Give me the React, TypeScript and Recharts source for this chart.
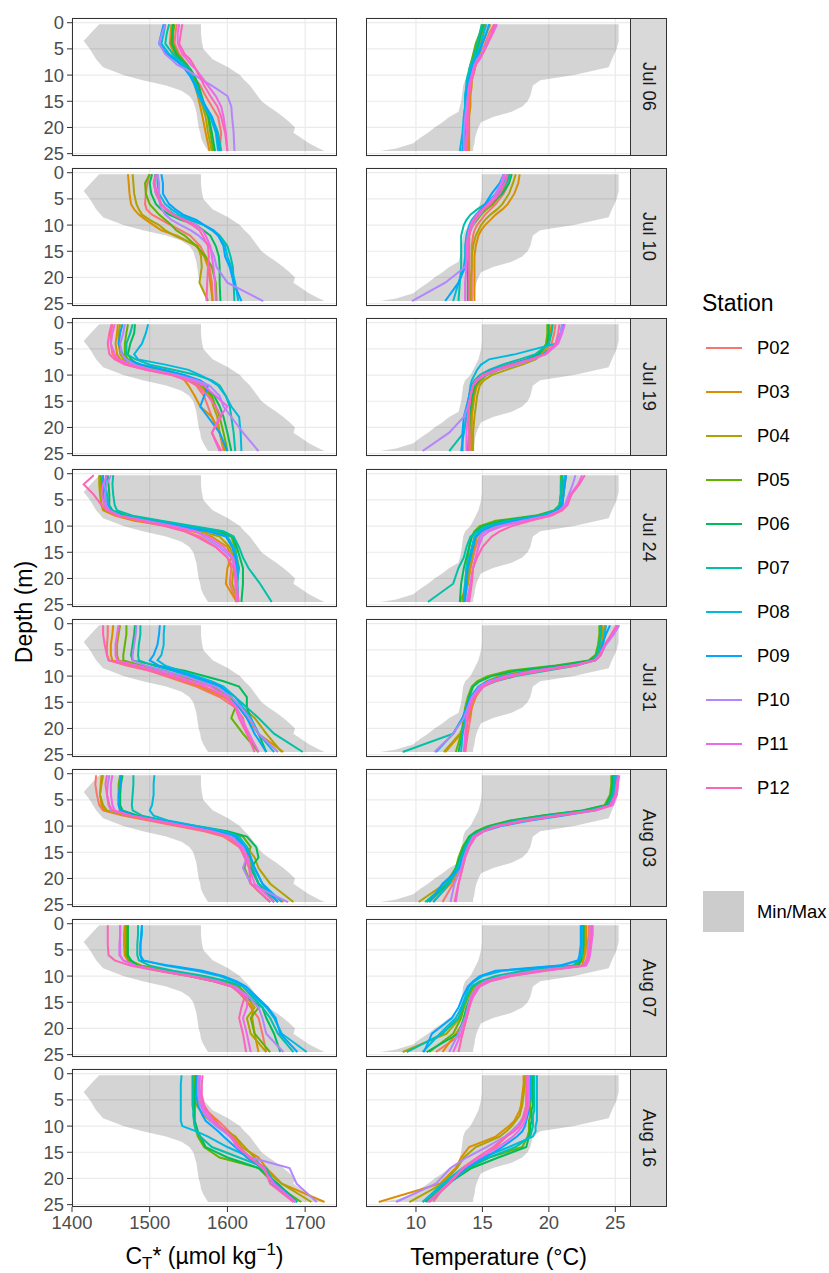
import React from "react";
import { ComposedChart, Line, Area, XAxis, YAxis, CartesianGrid } from "recharts";

const stations = ["P02", "P03", "P04", "P05", "P06", "P07", "P08", "P09", "P10", "P11", "P12"];
const stationColors = ["#F8766D", "#DB8E00", "#AEA200", "#64B200", "#00BD5C", "#00C1A7", "#00BADE", "#00A6FF", "#B385FF", "#EF67EB", "#FF63B6"];
const dates = ["Jul 06", "Jul 10", "Jul 19", "Jul 24", "Jul 31", "Aug 03", "Aug 07", "Aug 16"];

// depth (m) of each profile sample
const depths = [0.3, 2, 4, 6, 7, 8, 9, 10, 11, 12, 14, 16, 18, 21, 24.5];
const depthTicks = [0, 5, 10, 15, 20, 25];
const ctTicks = [1400, 1500, 1600, 1700];
const tempTicks = [10, 15, 20, 25];

// Min/Max envelope over all dates
const ribbonDepths = [0.3, 2, 3.5, 5, 7, 8.5, 10, 11, 12, 13, 14, 15, 16, 17, 18, 19, 20, 21, 22, 23, 24, 24.5];
const ctMin = [1435, 1424, 1415, 1423, 1431, 1440, 1466, 1491, 1521, 1541, 1551, 1556, 1558, 1560, 1561, 1562, 1563, 1565, 1566, 1569, 1573, 1575];
const ctMax = [1566, 1566, 1567, 1569, 1581, 1601, 1616, 1622, 1629, 1634, 1639, 1644, 1653, 1663, 1672, 1680, 1687, 1685, 1695, 1705, 1718, 1725];
const tempMin = [14.95, 14.95, 14.95, 14.9, 14.7, 14.4, 14.1, 13.7, 13.55, 13.5, 13.45, 13.4, 13.3, 13.2, 12.5, 12.0, 11.4, 10.9, 10.3, 9.8, 8.5, 7.3];
const tempMax = [25.25, 25.25, 25.25, 25.1, 24.75, 24.5, 21.9, 19.35, 18.8, 18.7, 18.6, 18.4, 18.0, 17.2, 15.8, 14.9, 14.7, 14.55, 14.45, 14.4, 14.3, 14.3];

// CT* profiles, one row per station (P02..P12)
const ctJul06 = [
  [1535, 1533, 1532, 1538, 1543, 1548, 1552, 1556, 1560, 1565, 1572, 1580, 1588, 1592, 1590],
  [1528, 1527, 1526, 1532, 1538, 1545, 1550, 1553, 1556, 1558, 1562, 1565, 1568, 1572, 1577],
  [1530, 1530, 1529, 1535, 1540, 1546, 1551, 1554, 1557, 1560, 1564, 1568, 1572, 1575, 1580],
  [1532, 1530, 1530, 1536, 1542, 1548, 1552, 1556, 1559, 1562, 1566, 1570, 1575, 1578, 1582],
  [1530, 1529, 1528, 1534, 1540, 1547, 1553, 1557, 1560, 1563, 1567, 1571, 1576, 1580, 1584],
  [1525, 1522, 1520, 1530, 1537, 1545, 1550, 1554, 1556, 1560, 1565, 1572, 1580, 1588, 1592],
  [1520, 1518, 1515, 1525, 1535, 1543, 1548, 1552, 1555, 1558, 1563, 1570, 1578, 1585, 1588],
  [1518, 1515, 1512, 1522, 1532, 1540, 1546, 1551, 1555, 1559, 1565, 1572, 1580, 1586, 1590],
  [1520, 1516, 1512, 1520, 1528, 1535, 1548, 1558, 1568, 1580, 1600, 1605, 1606, 1608, 1609],
  [1538, 1536, 1536, 1542, 1548, 1553, 1560, 1565, 1570, 1575, 1585, 1592, 1595, 1598, 1600],
  [1542, 1540, 1538, 1545, 1552, 1556, 1560, 1563, 1567, 1570, 1578, 1587, 1592, 1597, 1600],
];
const ctJul10 = [
  [1500, 1497, 1495, 1494, 1496, 1503, 1515, 1527, 1540, 1552, 1565, 1572, 1577, 1580, 1581],
  [1472, 1473, 1474, 1476, 1480, 1486, 1495, 1505, 1515, 1535, 1560, 1570, 1575, 1578, 1581],
  [1478, 1479, 1480, 1483, 1486, 1490, 1500, 1512, 1520, 1532, 1562, 1566, 1567, 1564, 1575],
  [1500, 1494, 1495, 1500, 1506, 1512, 1520, 1528, 1534, 1545, 1560, 1572, 1580, 1585, 1586],
  [1503, 1500, 1502, 1508, 1515, 1525, 1540, 1560, 1569, 1578, 1585, 1589, 1590, 1590, 1591],
  [1507, 1506, 1508, 1515, 1522, 1532, 1550, 1570, 1582, 1590, 1600, 1604, 1607, 1608, 1609],
  [1510, 1510, 1512, 1520, 1528, 1538, 1555, 1570, 1580, 1588, 1597, 1600, 1605, 1610, 1614],
  [1515, 1517, 1517, 1525, 1533, 1543, 1560, 1570, 1582, 1588, 1595, 1597, 1603, 1608, 1618],
  [1510, 1512, 1512, 1513, 1516, 1520, 1528, 1540, 1553, 1563, 1577, 1583, 1586, 1600, 1646],
  [1508, 1505, 1508, 1515, 1522, 1530, 1545, 1560, 1568, 1572, 1578, 1580, 1582, 1584, 1585],
  [1508, 1506, 1510, 1515, 1520, 1530, 1543, 1555, 1564, 1568, 1575, 1576, 1575, 1574, 1573],
];
const ctJul19 = [
  [1452, 1450, 1450, 1452, 1458, 1470, 1495, 1530, 1550, 1560, 1570, 1575, 1580, 1590, 1595],
  [1459, 1458, 1456, 1458, 1462, 1472, 1500, 1535, 1545, 1550, 1558, 1565, 1580, 1590, 1597],
  [1462, 1460, 1460, 1462, 1466, 1475, 1505, 1537, 1553, 1565, 1578, 1582, 1587, 1590, 1598],
  [1472, 1470, 1468, 1468, 1472, 1480, 1508, 1540, 1557, 1568, 1580, 1585, 1590, 1595, 1600],
  [1481, 1480, 1475, 1472, 1476, 1485, 1512, 1545, 1560, 1570, 1583, 1590, 1595, 1600, 1605],
  [1478, 1475, 1470, 1470, 1482, 1500, 1530, 1560, 1580, 1590, 1598, 1603, 1605, 1608, 1610],
  [1498, 1495, 1490, 1480, 1485, 1520, 1550, 1565, 1578, 1588, 1598, 1605, 1615, 1617, 1618],
  [1465, 1462, 1460, 1465, 1470, 1490, 1520, 1545, 1565, 1575, 1570, 1565, 1575, 1590, 1600],
  [1468, 1466, 1462, 1464, 1470, 1480, 1505, 1535, 1560, 1577, 1590, 1595, 1605, 1620, 1640],
  [1455, 1452, 1450, 1455, 1460, 1475, 1500, 1530, 1555, 1570, 1585, 1600, 1590, 1580, 1590],
  [1451, 1448, 1446, 1448, 1455, 1468, 1495, 1528, 1548, 1562, 1575, 1585, 1592, 1580, 1592],
];
const ctJul24 = [
  [1440, 1438, 1440, 1442, 1445, 1458, 1485, 1520, 1545, 1565, 1585, 1600, 1605, 1603, 1612],
  [1436, 1436, 1437, 1438, 1440, 1455, 1480, 1525, 1555, 1580, 1600, 1605, 1600, 1598, 1612],
  [1435, 1435, 1436, 1438, 1442, 1460, 1490, 1530, 1565, 1590, 1603, 1608, 1608, 1606, 1614],
  [1437, 1438, 1440, 1442, 1446, 1465, 1500, 1540, 1580, 1605, 1610, 1612, 1615, 1612, 1614],
  [1446, 1447, 1448, 1448, 1452, 1470, 1510, 1550, 1590, 1607, 1612, 1616, 1620, 1620, 1618],
  [1453, 1452, 1453, 1455, 1458, 1478, 1515, 1555, 1595, 1608, 1615, 1620, 1627, 1642, 1657],
  [1444, 1443, 1445, 1447, 1450, 1465, 1500, 1540, 1580, 1600, 1608, 1612, 1614, 1613, 1614],
  [1440, 1440, 1442, 1445, 1448, 1462, 1495, 1535, 1575, 1598, 1606, 1610, 1612, 1611, 1613],
  [1450, 1445, 1442, 1444, 1448, 1462, 1495, 1530, 1560, 1570, 1590, 1605, 1610, 1612, 1614],
  [1445, 1440, 1438, 1442, 1447, 1460, 1492, 1528, 1558, 1575, 1595, 1607, 1610, 1610, 1612],
  [1428, 1415, 1428, 1438, 1445, 1458, 1488, 1520, 1545, 1560, 1585, 1600, 1608, 1612, 1614],
];
const ctJul31 = [
  [1446, 1446, 1445, 1445, 1448, 1470, 1500, 1520, 1540, 1560, 1590, 1610, 1620, 1625, 1640],
  [1453, 1452, 1450, 1450, 1452, 1480, 1505, 1525, 1545, 1565, 1595, 1615, 1625, 1640, 1672],
  [1462, 1460, 1458, 1458, 1460, 1485, 1510, 1530, 1550, 1570, 1600, 1620, 1635, 1650, 1670],
  [1470, 1470, 1468, 1466, 1466, 1490, 1520, 1540, 1560, 1580, 1605, 1610, 1605, 1620, 1640],
  [1481, 1480, 1478, 1476, 1478, 1510, 1545, 1570, 1595, 1615, 1625, 1625, 1630, 1640, 1650],
  [1488, 1488, 1486, 1485, 1486, 1505, 1530, 1550, 1570, 1590, 1610, 1625, 1640, 1660, 1697],
  [1519, 1518, 1518, 1515, 1510, 1520, 1540, 1560, 1580, 1595, 1610, 1620, 1630, 1640, 1660],
  [1513, 1512, 1510, 1505, 1500, 1512, 1535, 1555, 1575, 1592, 1605, 1615, 1625, 1635, 1650],
  [1483, 1482, 1480, 1478, 1478, 1495, 1520, 1545, 1565, 1585, 1605, 1618, 1628, 1640, 1665],
  [1460, 1458, 1456, 1456, 1458, 1485, 1510, 1535, 1555, 1578, 1600, 1612, 1618, 1628, 1640],
  [1440, 1440, 1442, 1445, 1447, 1475, 1500, 1525, 1548, 1570, 1598, 1610, 1615, 1625, 1635],
];
const ctAug03 = [
  [1431, 1430, 1432, 1435, 1440, 1465, 1500, 1535, 1570, 1595, 1615, 1625, 1630, 1640, 1660],
  [1438, 1437, 1436, 1438, 1442, 1470, 1505, 1540, 1575, 1600, 1618, 1628, 1632, 1640, 1672],
  [1440, 1438, 1436, 1440, 1445, 1472, 1510, 1545, 1580, 1605, 1625, 1635, 1640, 1655, 1685],
  [1462, 1460, 1460, 1460, 1462, 1480, 1515, 1555, 1590, 1620, 1630, 1625, 1622, 1630, 1655],
  [1465, 1463, 1462, 1462, 1465, 1485, 1520, 1560, 1600, 1625, 1637, 1640, 1630, 1640, 1660],
  [1479, 1479, 1478, 1477, 1478, 1490, 1520, 1555, 1590, 1612, 1625, 1630, 1632, 1640, 1665],
  [1506, 1505, 1505, 1503, 1500, 1505, 1525, 1560, 1595, 1615, 1625, 1630, 1635, 1645, 1670],
  [1463, 1462, 1460, 1460, 1462, 1480, 1512, 1550, 1585, 1610, 1622, 1630, 1635, 1645, 1665],
  [1448, 1446, 1445, 1447, 1450, 1475, 1510, 1545, 1580, 1605, 1620, 1625, 1620, 1630, 1678],
  [1452, 1450, 1450, 1452, 1455, 1477, 1510, 1545, 1578, 1600, 1618, 1626, 1628, 1635, 1660],
  [1445, 1443, 1445, 1448, 1452, 1474, 1505, 1540, 1575, 1600, 1616, 1622, 1628, 1630, 1655],
];
const ctAug07 = [
  [1468, 1468, 1468, 1468, 1472, 1490, 1525, 1560, 1590, 1610, 1622, 1630, 1640, 1645, 1650],
  [1468, 1467, 1467, 1468, 1472, 1485, 1515, 1555, 1585, 1608, 1620, 1632, 1632, 1635, 1640],
  [1472, 1471, 1470, 1470, 1475, 1488, 1520, 1560, 1590, 1612, 1625, 1635, 1625, 1630, 1650],
  [1470, 1470, 1470, 1470, 1474, 1488, 1522, 1565, 1595, 1615, 1628, 1640, 1630, 1635, 1655],
  [1472, 1472, 1472, 1472, 1476, 1484, 1512, 1550, 1582, 1606, 1625, 1645, 1650, 1660, 1668],
  [1485, 1485, 1484, 1484, 1486, 1500, 1530, 1570, 1600, 1620, 1632, 1645, 1655, 1665, 1685],
  [1490, 1490, 1488, 1488, 1492, 1520, 1560, 1590, 1608, 1620, 1635, 1650, 1660, 1670, 1702],
  [1490, 1489, 1488, 1488, 1490, 1525, 1568, 1595, 1612, 1624, 1638, 1652, 1662, 1668, 1690],
  [1462, 1462, 1462, 1462, 1466, 1482, 1515, 1555, 1588, 1610, 1628, 1640, 1645, 1650, 1672],
  [1462, 1462, 1461, 1461, 1466, 1480, 1512, 1552, 1585, 1607, 1626, 1625, 1620, 1625, 1630],
  [1446, 1446, 1446, 1447, 1455, 1475, 1510, 1550, 1582, 1605, 1622, 1618, 1615, 1620, 1624],
];
const ctAug16 = [
  [1562, 1562, 1563, 1566, 1572, 1580, 1588, 1595, 1602, 1608, 1615, 1625, 1645, 1660, 1685],
  [1558, 1558, 1560, 1565, 1573, 1580, 1585, 1590, 1598, 1610, 1618, 1640, 1650, 1670, 1725],
  [1556, 1556, 1557, 1560, 1565, 1570, 1578, 1588, 1600, 1610, 1622, 1635, 1645, 1670, 1708],
  [1558, 1557, 1557, 1557, 1557, 1557, 1557, 1558, 1560, 1562, 1570, 1590, 1640, 1660, 1695],
  [1560, 1559, 1558, 1558, 1558, 1558, 1558, 1560, 1562, 1565, 1572, 1600, 1640, 1665, 1690],
  [1555, 1555, 1555, 1555, 1556, 1556, 1557, 1558, 1560, 1565, 1580, 1615, 1650, 1660, 1687],
  [1541, 1540, 1540, 1540, 1540, 1540, 1540, 1542, 1560, 1575, 1600, 1630, 1648, 1655, 1690],
  [1560, 1560, 1560, 1562, 1565, 1568, 1572, 1580, 1588, 1595, 1610, 1625, 1645, 1662, 1688],
  [1563, 1562, 1562, 1565, 1568, 1572, 1578, 1585, 1595, 1603, 1615, 1630, 1680, 1689, 1715],
  [1565, 1564, 1565, 1568, 1570, 1575, 1580, 1590, 1598, 1605, 1612, 1630, 1645, 1660, 1688],
  [1568, 1567, 1567, 1570, 1574, 1578, 1583, 1590, 1597, 1605, 1615, 1628, 1648, 1655, 1685],
];

// temperature profiles (°C), one row per station (P02..P12)
const tJul06 = [
  [15.9, 15.5, 15.2, 14.9, 14.7, 14.5, 14.4, 14.3, 14.2, 14.1, 14.0, 14.0, 13.9, 13.9, 13.9],
  [15.6, 15.3, 15.0, 14.8, 14.6, 14.5, 14.4, 14.3, 14.2, 14.2, 14.1, 14.1, 14.0, 14.0, 14.0],
  [15.2, 15.0, 14.8, 14.6, 14.5, 14.4, 14.3, 14.2, 14.1, 14.0, 13.9, 13.9, 13.8, 13.8, 13.8],
  [15.0, 14.8, 14.5, 14.3, 14.2, 14.1, 14.0, 14.0, 13.9, 13.9, 13.8, 13.8, 13.8, 13.7, 13.6],
  [15.1, 14.9, 14.7, 14.5, 14.4, 14.3, 14.2, 14.1, 14.0, 14.0, 13.9, 13.9, 13.8, 13.7, 13.6],
  [14.95, 14.8, 14.6, 14.4, 14.3, 14.1, 14.0, 13.9, 13.8, 13.8, 13.7, 13.7, 13.6, 13.6, 13.5],
  [15.3, 15.1, 14.9, 14.6, 14.4, 14.2, 14.1, 14.0, 13.9, 13.8, 13.7, 13.7, 13.6, 13.5, 13.3],
  [15.5, 15.3, 15.0, 14.7, 14.5, 14.3, 14.2, 14.1, 14.0, 13.9, 13.8, 13.8, 13.7, 13.6, 13.5],
  [16.0, 15.7, 15.3, 14.9, 14.6, 14.4, 14.3, 14.2, 14.1, 14.0, 13.9, 13.8, 13.7, 13.6, 13.6],
  [16.1, 15.8, 15.4, 15.0, 14.8, 14.5, 14.3, 14.2, 14.1, 14.0, 13.9, 13.9, 13.8, 13.8, 13.7],
  [15.9, 15.7, 15.4, 15.0, 14.7, 14.5, 14.4, 14.3, 14.2, 14.1, 14.0, 14.0, 13.9, 13.9, 13.8],
];
const tJul10 = [
  [17.2, 17.0, 16.6, 16.0, 15.6, 15.2, 14.9, 14.6, 14.4, 14.3, 14.2, 14.2, 14.2, 14.2, 14.2],
  [17.8, 17.7, 17.4, 16.9, 16.5, 16.0, 15.6, 15.2, 14.9, 14.7, 14.5, 14.4, 14.4, 14.4, 14.4],
  [17.5, 17.3, 17.0, 16.5, 16.1, 15.6, 15.2, 14.9, 14.7, 14.5, 14.3, 14.2, 14.2, 14.1, 14.1],
  [17.0, 16.8, 16.4, 15.8, 15.3, 14.9, 14.6, 14.3, 14.1, 14.0, 14.0, 14.0, 14.0, 14.0, 14.0],
  [17.2, 17.0, 16.5, 15.6, 15.0, 14.6, 14.3, 14.1, 14.0, 13.9, 13.9, 13.9, 13.9, 13.9, 13.9],
  [17.1, 16.8, 16.2, 15.2, 14.6, 14.1, 13.8, 13.6, 13.5, 13.4, 13.4, 13.4, 13.4, 13.3, 13.2],
  [16.9, 16.6, 16.0, 15.3, 14.9, 14.5, 14.2, 14.0, 13.9, 13.8, 13.7, 13.7, 13.6, 13.2, 12.8],
  [16.6, 16.3, 15.7, 15.2, 14.9, 14.6, 14.3, 14.1, 14.0, 13.9, 13.8, 13.8, 13.7, 13.2, 12.2],
  [16.6, 16.4, 16.0, 15.5, 15.1, 14.8, 14.5, 14.3, 14.1, 14.0, 13.9, 13.9, 13.7, 12.2, 9.7],
  [16.7, 16.5, 16.1, 15.4, 15.0, 14.6, 14.3, 14.1, 14.0, 13.9, 13.8, 13.8, 13.8, 13.7, 13.7],
  [16.9, 16.7, 16.3, 15.6, 15.1, 14.7, 14.4, 14.2, 14.1, 14.0, 14.0, 14.0, 14.0, 14.0, 14.0],
];
const tJul19 = [
  [20.5, 20.4, 20.2, 19.5, 18.3, 17.0, 15.8, 15.0, 14.6, 14.4, 14.3, 14.2, 14.2, 14.1, 14.1],
  [20.2, 20.1, 20.0, 19.6, 18.8, 17.5, 16.2, 15.3, 14.9, 14.6, 14.4, 14.3, 14.2, 14.2, 14.2],
  [19.9, 19.9, 19.8, 19.5, 19.0, 18.0, 16.8, 15.7, 15.1, 14.8, 14.6, 14.5, 14.4, 14.3, 14.3],
  [19.9, 19.9, 19.8, 19.3, 18.6, 17.4, 16.2, 15.3, 14.8, 14.5, 14.3, 14.2, 14.1, 14.0, 14.0],
  [20.0, 20.0, 19.9, 19.2, 18.3, 17.2, 16.0, 15.2, 14.7, 14.4, 14.2, 14.1, 14.0, 14.0, 13.9],
  [20.3, 20.2, 20.0, 19.0, 17.8, 16.5, 15.5, 14.8, 14.4, 14.2, 14.0, 13.9, 13.8, 13.6, 12.5],
  [21.0, 20.9, 20.5, 17.5, 15.5, 14.9, 14.6, 14.4, 14.2, 14.1, 14.0, 13.9, 13.8, 13.6, 13.4],
  [21.1, 20.9, 20.6, 19.6, 18.4, 17.0, 15.7, 15.0, 14.5, 14.2, 14.0, 13.8, 13.6, 13.5, 13.5],
  [21.0, 20.9, 20.6, 19.7, 18.8, 17.6, 16.2, 15.2, 14.6, 14.3, 14.1, 13.9, 13.6, 12.5, 10.5],
  [21.2, 21.0, 20.7, 19.8, 18.7, 17.3, 16.0, 15.1, 14.6, 14.3, 14.1, 14.0, 13.9, 13.8, 13.8],
  [20.8, 20.7, 20.5, 19.7, 18.6, 17.2, 15.9, 15.0, 14.5, 14.3, 14.1, 14.0, 14.0, 14.0, 14.0],
];
const tJul24 = [
  [21.2, 21.2, 21.1, 21.0, 20.8, 20.0, 18.0, 16.2, 15.2, 14.8, 14.5, 14.3, 14.1, 13.9, 13.5],
  [21.3, 21.2, 21.1, 21.0, 20.7, 19.8, 17.5, 15.8, 15.0, 14.6, 14.4, 14.2, 14.1, 13.9, 13.3],
  [21.0, 21.0, 21.0, 20.9, 20.6, 19.5, 17.0, 15.3, 14.8, 14.5, 14.3, 14.2, 14.0, 13.9, 13.6],
  [20.9, 20.9, 20.9, 20.8, 20.4, 19.0, 16.0, 14.8, 14.4, 14.2, 14.0, 13.9, 13.8, 13.7, 13.5],
  [21.0, 21.0, 20.9, 20.8, 20.4, 19.2, 16.5, 15.0, 14.5, 14.2, 14.0, 13.8, 13.6, 13.4, 13.3],
  [21.0, 20.9, 20.9, 20.8, 20.5, 19.3, 17.0, 15.3, 14.6, 14.1, 13.8, 13.6, 13.2, 12.8, 10.9],
  [21.2, 21.1, 21.1, 21.0, 20.7, 19.6, 17.3, 15.5, 14.8, 14.4, 14.2, 14.0, 13.8, 13.7, 13.6],
  [21.3, 21.2, 21.1, 21.0, 20.7, 19.7, 17.5, 15.7, 14.9, 14.5, 14.3, 14.1, 13.9, 13.8, 13.7],
  [22.0, 21.8, 21.5, 21.2, 20.8, 19.9, 18.0, 16.2, 15.2, 14.8, 14.7, 14.5, 14.3, 14.1, 13.8],
  [22.5, 22.2, 21.6, 21.3, 20.9, 20.0, 18.3, 16.5, 15.5, 15.0, 14.7, 14.5, 14.3, 14.1, 13.9],
  [22.7, 22.3, 21.7, 21.4, 21.0, 20.2, 18.6, 17.2, 16.3, 15.7, 15.0, 14.6, 14.3, 14.2, 14.0],
];
const tJul31 = [
  [24.2, 24.1, 23.9, 23.7, 23.3, 21.5, 18.5, 16.5, 15.4, 14.8, 14.4, 14.2, 14.1, 13.9, 13.7],
  [24.2, 24.1, 24.0, 23.8, 23.4, 21.8, 19.0, 17.0, 15.7, 15.0, 14.5, 14.2, 14.0, 13.4, 12.2],
  [24.0, 24.0, 23.9, 23.7, 23.2, 21.3, 18.3, 16.3, 15.3, 14.8, 14.3, 14.0, 13.9, 13.3, 12.1],
  [23.8, 23.8, 23.7, 23.5, 23.0, 20.5, 17.0, 15.4, 14.6, 14.2, 13.9, 13.7, 13.6, 13.4, 13.0],
  [23.9, 23.9, 23.8, 23.6, 23.1, 20.8, 17.5, 15.7, 14.8, 14.3, 14.0, 13.8, 13.7, 13.5, 13.2],
  [23.9, 23.9, 23.8, 23.6, 23.3, 22.1, 19.8, 17.5, 16.0, 15.0, 14.1, 13.8, 13.5, 12.8, 9.0],
  [24.3, 24.2, 24.1, 23.9, 23.5, 21.9, 19.3, 17.0, 15.6, 14.8, 14.2, 13.9, 13.7, 13.5, 13.4],
  [24.6, 24.3, 24.0, 23.8, 23.4, 21.6, 18.8, 16.6, 15.4, 14.7, 14.1, 13.8, 13.5, 12.8, 11.5],
  [25.3, 24.9, 24.3, 23.9, 23.5, 21.8, 19.0, 16.8, 15.5, 14.8, 14.2, 13.9, 13.6, 12.8, 11.4],
  [25.2, 24.8, 24.2, 23.8, 23.4, 21.7, 18.9, 16.9, 15.6, 14.9, 14.3, 14.0, 13.8, 13.7, 13.6],
  [25.1, 24.7, 24.2, 23.9, 23.5, 22.0, 19.5, 17.3, 15.9, 15.1, 14.4, 14.1, 13.9, 13.8, 13.7],
];
const tAug03 = [
  [25.0, 25.0, 24.9, 24.5, 23.0, 20.2, 17.8, 16.0, 15.0, 14.3, 13.8, 13.5, 13.3, 12.8, 12.0],
  [25.2, 25.1, 25.0, 24.6, 23.2, 20.5, 18.0, 16.1, 15.0, 14.3, 13.8, 13.5, 13.3, 12.6, 11.3],
  [24.9, 24.9, 24.8, 24.4, 22.8, 19.8, 17.3, 15.6, 14.7, 14.1, 13.6, 13.3, 13.0, 12.2, 10.2],
  [24.7, 24.7, 24.6, 24.2, 22.5, 19.5, 17.0, 15.4, 14.5, 14.0, 13.5, 13.2, 13.0, 12.4, 11.0],
  [24.8, 24.8, 24.7, 24.3, 22.6, 19.6, 17.1, 15.5, 14.6, 14.0, 13.6, 13.3, 13.0, 12.4, 10.8],
  [24.9, 24.9, 24.8, 24.5, 23.0, 20.0, 17.5, 15.8, 14.8, 14.2, 13.7, 13.4, 13.1, 12.3, 10.7],
  [25.0, 25.0, 24.9, 24.6, 23.3, 20.6, 18.0, 16.1, 15.0, 14.3, 13.8, 13.5, 13.2, 12.5, 11.3],
  [25.1, 25.1, 25.0, 24.5, 23.5, 21.1, 18.5, 16.4, 15.1, 14.4, 13.9, 13.5, 13.3, 12.0, 11.0],
  [25.2, 25.2, 25.1, 24.7, 23.3, 20.5, 17.9, 16.0, 15.0, 14.3, 13.9, 13.6, 13.4, 12.9, 12.6],
  [25.3, 25.2, 25.1, 24.8, 23.6, 20.8, 18.2, 16.2, 15.1, 14.5, 14.0, 13.7, 13.5, 13.2, 13.0],
  [25.2, 25.1, 25.0, 24.6, 23.4, 20.7, 18.1, 16.1, 15.0, 14.4, 14.0, 13.7, 13.5, 13.2, 12.9],
];
const tAug07 = [
  [23.0, 23.0, 22.9, 22.9, 22.8, 22.7, 19.0, 16.5, 15.2, 14.6, 14.1, 13.9, 13.8, 13.5, 11.5],
  [22.8, 22.8, 22.8, 22.7, 22.6, 22.5, 19.5, 17.0, 15.5, 14.7, 14.2, 14.0, 13.8, 13.0, 12.0],
  [22.7, 22.7, 22.7, 22.6, 22.5, 22.2, 18.8, 16.4, 15.0, 14.4, 13.9, 13.6, 13.3, 12.3, 9.0],
  [22.6, 22.6, 22.6, 22.5, 22.4, 22.0, 18.5, 16.2, 14.9, 14.3, 13.9, 13.6, 13.4, 12.8, 11.0],
  [22.6, 22.6, 22.6, 22.5, 22.4, 22.2, 19.3, 16.8, 15.3, 14.6, 14.1, 13.8, 13.6, 13.2, 10.8],
  [22.5, 22.5, 22.5, 22.5, 22.3, 21.8, 18.0, 16.0, 14.8, 14.2, 13.8, 13.5, 13.2, 12.0, 9.3],
  [22.5, 22.5, 22.5, 22.4, 22.2, 21.0, 16.5, 15.0, 14.4, 14.0, 13.7, 13.4, 13.0, 11.8, 10.5],
  [22.4, 22.4, 22.4, 22.3, 22.2, 20.8, 16.0, 14.8, 14.3, 13.9, 13.5, 13.2, 12.7, 11.2, 10.6],
  [23.1, 23.1, 23.0, 23.0, 22.8, 22.6, 19.0, 16.6, 15.2, 14.6, 14.1, 13.9, 13.7, 13.2, 12.5],
  [23.3, 23.3, 23.2, 23.1, 23.0, 22.8, 19.8, 17.2, 15.6, 14.8, 14.3, 14.0, 13.8, 13.4, 12.8],
  [23.2, 23.2, 23.1, 23.0, 22.9, 22.6, 19.5, 17.0, 15.4, 14.7, 14.2, 14.0, 13.8, 13.5, 13.2],
];
const tAug16 = [
  [18.4, 18.4, 18.4, 18.4, 18.3, 18.2, 18.0, 17.6, 17.2, 16.8, 16.0, 15.0, 13.7, 12.3, 11.3],
  [18.1, 18.1, 18.0, 17.9, 17.8, 17.6, 17.4, 17.0, 16.5, 16.0, 14.0, 13.4, 13.0, 11.8, 7.2],
  [18.2, 18.2, 18.1, 18.0, 17.9, 17.8, 17.5, 17.2, 16.8, 16.3, 14.5, 13.6, 13.1, 12.0, 9.5],
  [18.7, 18.7, 18.7, 18.6, 18.6, 18.6, 18.5, 18.5, 18.5, 18.4, 18.0, 15.5, 14.0, 12.3, 10.8],
  [18.8, 18.8, 18.8, 18.8, 18.7, 18.7, 18.7, 18.6, 18.6, 18.5, 18.3, 16.2, 14.2, 12.4, 10.7],
  [18.9, 18.9, 18.9, 18.9, 18.9, 18.8, 18.8, 18.8, 18.7, 18.6, 17.5, 15.5, 13.8, 12.2, 10.5],
  [19.1, 19.1, 19.1, 19.1, 19.1, 19.1, 19.1, 19.0, 19.0, 18.8, 17.0, 15.0, 13.5, 12.0, 10.5],
  [18.6, 18.6, 18.6, 18.5, 18.5, 18.4, 18.3, 18.2, 18.0, 17.6, 16.5, 15.2, 13.8, 12.5, 11.0],
  [18.4, 18.4, 18.3, 18.3, 18.2, 18.1, 17.9, 17.6, 17.2, 16.7, 15.3, 13.8, 12.6, 11.5, 8.5],
  [18.5, 18.5, 18.5, 18.5, 18.4, 18.3, 18.2, 18.0, 17.7, 17.3, 16.2, 14.8, 13.6, 12.4, 10.9],
  [18.3, 18.3, 18.3, 18.3, 18.2, 18.1, 18.0, 17.8, 17.4, 16.8, 15.8, 14.6, 13.5, 12.5, 11.0],
];

const ctPanels = [ctJul06, ctJul10, ctJul19, ctJul24, ctJul31, ctAug03, ctAug07, ctAug16];
const tempPanels = [tJul06, tJul10, tJul19, tJul24, tJul31, tAug03, tAug07, tAug16];

const FONT = '"Liberation Sans", Arial, Helvetica, sans-serif';
const ROW_TOP = 18;
const ROW_STEP = 150.2;
const PANEL_H = 138;
const PANEL_W = 265;
const LEFT_X = 72;
const RIGHT_X = 366;
const STRIP_W = 36;
const Y_AXIS_W = 40;
const X_AXIS_H = 36;
const PAD = 12;
const DEPTH_DOMAIN: [number, number] = [-0.9, 25.45];

const ctRibbon = ribbonDepths.map((depth, i) => ({ depth, range: [ctMin[i], ctMax[i]] }));
const tempRibbon = ribbonDepths.map((depth, i) => ({ depth, range: [tempMin[i], tempMax[i]] }));

function toRows(panel: number[][]) {
  return depths.map((depth, i) => {
    const row: Record<string, number> = { depth };
    stations.forEach((s, k) => {
      row[s] = panel[k][i];
    });
    return row;
  });
}

interface FacetProps {
  panel: number[][];
  ribbon: { depth: number; range: number[] }[];
  domain: [number, number];
  xTicks: number[];
  x: number;
  top: number;
  showY: boolean;
  showX: boolean;
}

function Facet({ panel, ribbon, domain, xTicks, x, top, showY, showX }: FacetProps) {
  const yw = showY ? Y_AXIS_W : 0;
  const bottom = showX ? 0 : PAD;
  const h = PAD + PANEL_H + (showX ? X_AXIS_H : PAD);
  const tickStyle = { fontSize: 18.4, fill: "#4D4D4D", fontFamily: FONT };
  return (
    <div style={{ position: "absolute", left: x - yw, top: top - PAD, width: PANEL_W + yw, height: h }}>
      <ComposedChart
        layout="vertical"
        width={PANEL_W + yw}
        height={h}
        data={toRows(panel)}
        margin={{ top: PAD, right: 0, bottom, left: 0 }}
      >
        <CartesianGrid stroke="#EBEBEB" strokeWidth={1.2} />
        <XAxis
          type="number"
          domain={domain}
          ticks={xTicks}
          interval={0}
          allowDataOverflow
          hide={!showX}
          height={X_AXIS_H}
          tick={tickStyle}
          tickLine={{ stroke: "#333333" }}
          axisLine={false}
          tickSize={5}
          tickMargin={4}
        />
        <YAxis
          type="number"
          dataKey="depth"
          domain={DEPTH_DOMAIN}
          ticks={depthTicks}
          interval={0}
          allowDataOverflow
          hide={!showY}
          width={Y_AXIS_W}
          tick={tickStyle}
          tickLine={{ stroke: "#333333" }}
          axisLine={false}
          tickSize={5}
          tickMargin={3}
        />
        <Area
          data={ribbon}
          dataKey="range"
          type="linear"
          fill="#000000"
          fillOpacity={0.17}
          stroke="none"
          isAnimationActive={false}
        />
        {stations.map((s, k) => (
          <Line
            key={s}
            dataKey={s}
            type="linear"
            stroke={stationColors[k]}
            strokeWidth={2}
            dot={false}
            isAnimationActive={false}
          />
        ))}
      </ComposedChart>
      <div
        style={{
          position: "absolute",
          left: yw,
          top: PAD,
          width: PANEL_W,
          height: PANEL_H,
          border: "1px solid #333333",
          boxSizing: "border-box",
          pointerEvents: "none",
        }}
      />
    </div>
  );
}

export default function App() {
  const last = dates.length - 1;
  return (
    <div
      style={{
        position: "absolute",
        left: 0,
        top: 0,
        width: 829,
        height: 1273,
        background: "#FFFFFF",
        fontFamily: FONT,
        overflow: "hidden",
      }}
    >
      {dates.map((d, i) => {
        const top = Math.round(ROW_TOP + i * ROW_STEP);
        return (
          <React.Fragment key={d}>
            <Facet
              panel={ctPanels[i]}
              ribbon={ctRibbon}
              domain={[1400, 1741]}
              xTicks={ctTicks}
              x={LEFT_X}
              top={top}
              showY
              showX={i === last}
            />
            <Facet
              panel={tempPanels[i]}
              ribbon={tempRibbon}
              domain={[6.24, 26.18]}
              xTicks={tempTicks}
              x={RIGHT_X}
              top={top}
              showY={false}
              showX={i === last}
            />
            <div
              style={{
                position: "absolute",
                left: RIGHT_X + PANEL_W - 1,
                top,
                width: STRIP_W + 1,
                height: PANEL_H,
                background: "#D9D9D9",
                border: "1px solid #333333",
                boxSizing: "border-box",
                display: "flex",
                alignItems: "center",
                justifyContent: "center",
              }}
            >
              <span style={{ writingMode: "vertical-rl", fontSize: 18.4, color: "#1A1A1A" }}>{d}</span>
            </div>
          </React.Fragment>
        );
      })}

      {/* axis titles */}
      <div
        style={{
          position: "absolute",
          left: 24,
          top: 612,
          transform: "translate(-50%, -50%) rotate(-90deg)",
          fontSize: 23,
          whiteSpace: "nowrap",
          color: "#000",
        }}
      >
        Depth (m)
      </div>
      <div
        style={{
          position: "absolute",
          left: LEFT_X + PANEL_W / 2,
          top: 1257,
          transform: "translate(-50%, -50%)",
          fontSize: 23,
          whiteSpace: "nowrap",
          color: "#000",
        }}
      >
        C<sub style={{ fontSize: 17 }}>T</sub>* (µmol kg<sup style={{ fontSize: 17 }}>−1</sup>)
      </div>
      <div
        style={{
          position: "absolute",
          left: RIGHT_X + PANEL_W / 2,
          top: 1257,
          transform: "translate(-50%, -50%)",
          fontSize: 23,
          whiteSpace: "nowrap",
          color: "#000",
        }}
      >
        Temperature (°C)
      </div>

      {/* legend */}
      <div style={{ position: "absolute", left: 702, top: 290, fontSize: 23, color: "#000" }}>Station</div>
      {stations.map((s, k) => {
        const cy = 348.3 + k * 44;
        return (
          <React.Fragment key={s}>
            <div
              style={{
                position: "absolute",
                left: 706,
                top: cy - 1,
                width: 36,
                height: 2,
                background: stationColors[k],
              }}
            />
            <div
              style={{
                position: "absolute",
                left: 757,
                top: cy,
                transform: "translateY(-50%)",
                fontSize: 18.4,
                color: "#000",
              }}
            >
              {s}
            </div>
          </React.Fragment>
        );
      })}
      <div
        style={{
          position: "absolute",
          left: 703,
          top: 891,
          width: 41,
          height: 41,
          background: "#CCCCCC",
        }}
      />
      <div
        style={{
          position: "absolute",
          left: 757,
          top: 912,
          transform: "translateY(-50%)",
          fontSize: 18.4,
          color: "#000",
        }}
      >
        Min/Max
      </div>
    </div>
  );
}
